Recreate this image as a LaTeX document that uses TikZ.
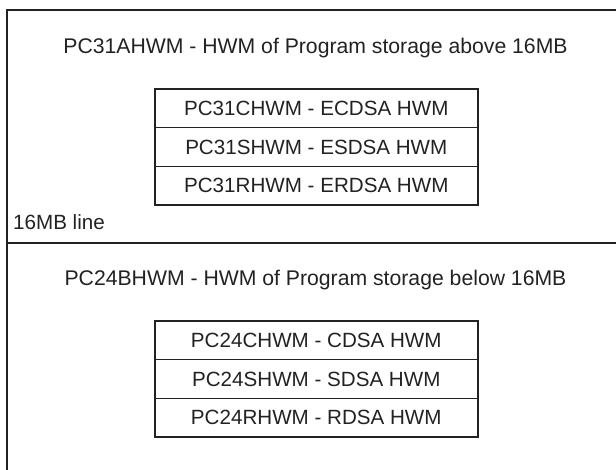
\documentclass[tikz,border=0pt]{standalone}
\usepackage{fontspec}
\setmainfont{Liberation Sans}
\definecolor{ink}{HTML}{222222}
\begin{document}
\begin{tikzpicture}[x=1pt,y=-1pt,
  txt/.style={font=\fontsize{21.2}{24}\selectfont, text=ink, inner sep=0pt},
  row/.style={draw=ink, line width=1.6pt, minimum width=323pt, minimum height=38.8pt, anchor=north west, inner sep=0pt, font=\fontsize{20.6}{24}\selectfont, text=ink},
  frame/.style={draw=ink, line width=2pt}]
\useasboundingbox (0,0) rectangle (616,470);
\coordinate (tl) at (7,10);
\coordinate (tr) at (616,10);
\coordinate (bl) at (7,470);
\coordinate (dl) at (7,243);
\coordinate (dr) at (616,243);
\draw[frame] (tr) -- (tl) -- (bl);
\draw[frame] (dl) -- (dr);
\node[txt] (t1) at (315.5,48.5) {PC31AHWM - HWM of Program storage above 16MB};
\node[row] (c31) at (154,88) {PC31CHWM - ECDSA HWM};
\node[row] (s31) at (154,126.8) {PC31SHWM - ESDSA HWM};
\node[row] (r31) at (154,165.6) {PC31RHWM - ERDSA HWM};
\node[txt, anchor=west, font=\fontsize{20.6}{24}\selectfont] (line16) at (13,222) {16MB line};
\node[txt] (t2) at (315.5,280.5) {PC24BHWM - HWM of Program storage below 16MB};
\node[row] (c24) at (154,320) {PC24CHWM - CDSA HWM};
\node[row] (s24) at (154,358.8) {PC24SHWM - SDSA HWM};
\node[row] (r24) at (154,397.6) {PC24RHWM - RDSA HWM};
\end{tikzpicture}
\end{document}
